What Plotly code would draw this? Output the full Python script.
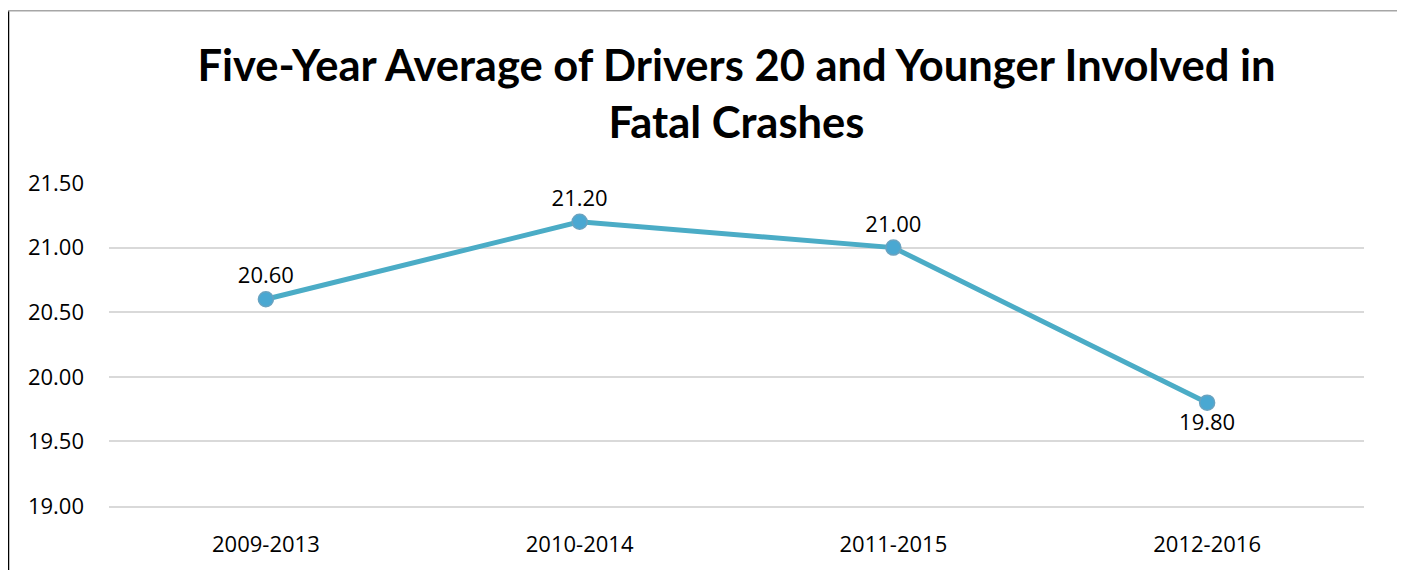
import plotly.graph_objects as go

periods = ["2009-2013", "2010-2014", "2011-2015", "2012-2016"]
avg_drivers = [20.60, 21.20, 21.00, 19.80]
label_pos = ["top center", "top center", "top center", "bottom center"]
y_ticks = [19.0, 19.5, 20.0, 20.5, 21.0, 21.5]

# page has an 8px body margin: figure origin sits at page (8, 8)
OFF = 8
W, H = 1405 - OFF, 570 - OFF
ML, MR, MT, MB = 109 - OFF, 41, 183 - OFF, 60
PW, PH = W - ML - MR, H - MT - MB

def px_x(p):
    return (p - OFF - ML) / PW

def px_y(p):
    return (H + OFF - MB - p) / PH

fig = go.Figure()
fig.add_trace(go.Scatter(
    x=periods, y=avg_drivers,
    mode="lines+markers+text",
    line=dict(color="#4BACC6", width=5),
    marker=dict(size=15, color="#4AA8D2", line=dict(color="#6AA3C0", width=1.5)),
    text=[f"{v:.2f}" for v in avg_drivers],
    textposition=label_pos,
    textfont=dict(family="Open Sans", size=22, color="#000000"),
    cliponaxis=False,
    showlegend=False,
))

fig.update_layout(
    width=W, height=H,
    margin=dict(l=ML, r=MR, t=MT, b=MB),
    paper_bgcolor="white", plot_bgcolor="white",
    title=dict(
        text="Five-Year Average of Drivers 20 and Younger Involved in<br>Fatal Crashes",
        x=0.5, xanchor="center", xref="paper",
        y=1 - 73 / H, yanchor="middle", yref="container",
        font=dict(family="Lato", size=43.5, color="#000000", weight="bold"),
    ),
    font=dict(family="Open Sans", size=22, color="#000000"),
    xaxis=dict(
        type="category", range=[-0.5, len(periods) - 0.5],
        showgrid=False, zeroline=False,
        showline=True, linecolor="#D9D9D9", linewidth=2,
        ticks="", ticklabelstandoff=18,
        tickfont=dict(family="Open Sans", size=22, color="#000000"),
        fixedrange=True,
    ),
    yaxis=dict(
        range=[y_ticks[0], y_ticks[-1]],
        tickvals=y_ticks, ticktext=[f"{v:.2f}" for v in y_ticks],
        showgrid=True, gridcolor="#D9D9D9", gridwidth=2,
        showline=False, zeroline=False,
        ticks="", ticklabelstandoff=24,
        tickfont=dict(family="Open Sans", size=22, color="#000000"),
        fixedrange=True,
    ),
    shapes=[
        # hide the top gridline (Excel style: no gridline at the axis max)
        dict(type="line", xref="paper", yref="y", x0=-0.001, x1=1.001,
             y0=y_ticks[-1], y1=y_ticks[-1], line=dict(color="white", width=3), layer="below"),
        # chart frame fragments
        dict(type="line", xref="paper", yref="paper", x0=px_x(8), x1=px_x(8),
             y0=px_y(8), y1=px_y(575), line=dict(color="#000000", width=2.5)),
        dict(type="line", xref="paper", yref="paper", x0=px_x(8), x1=px_x(1398),
             y0=px_y(8.5), y1=px_y(8.5), line=dict(color="#A6A6A6", width=1.5)),
    ],
)

fig.write_html("out.html")
